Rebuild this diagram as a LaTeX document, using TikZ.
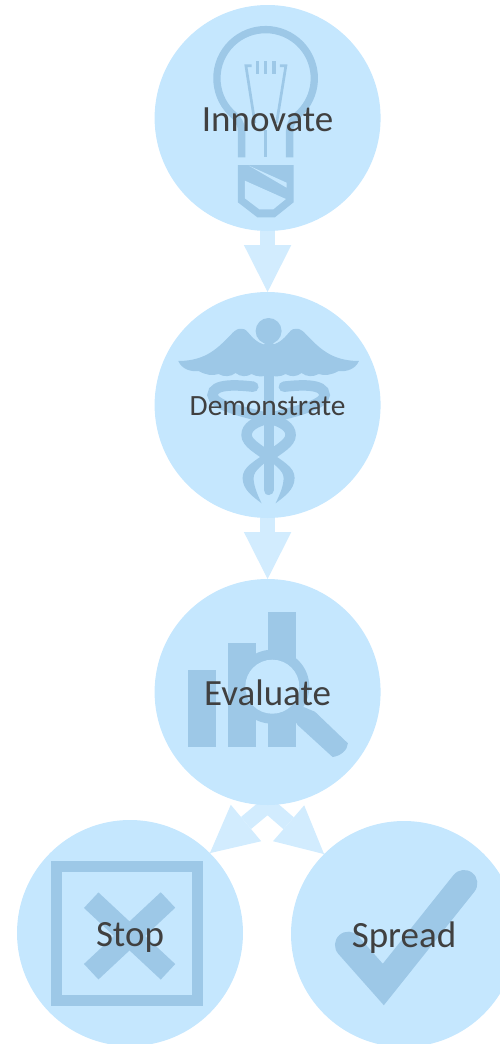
\documentclass[tikz,border=0pt]{standalone}
\usepackage{fontspec}
\setmainfont{Carlito}
\usetikzlibrary{arrows.meta}
\usetikzlibrary{backgrounds}
\definecolor{blobblue}{HTML}{C5E7FE}
\definecolor{flowblue}{HTML}{D2ECFE}
\definecolor{iconblue}{HTML}{9DC8E7}
\definecolor{labelgray}{HTML}{404040}
\tikzset{blob/.style={circle,minimum size=226pt,inner sep=0pt,outer sep=0pt,
		text=labelgray,font=\fontsize{37}{37}\selectfont,text height=26pt,text depth=0pt}}
\tikzset{flow/.style={draw=flowblue,line width=15.7pt,-{Triangle[length=47pt,width=47.5pt,line width=0pt,color=flowblue]}}}
\tikzset{icon/.style={draw=iconblue,fill=none},
		 iconfill/.style={fill=iconblue,draw=none},
		 iconhole/.style={fill=blobblue,draw=none}}
\newcommand{\bulbicon}{
	\draw[icon,line width=7.3pt] (-26,39.3) -- (-26,13) .. controls (-26,6) and (-30,1) .. (-33.3,-2.4)
		arc (130:410:48.7) .. controls (26,1) and (22,6) .. (22,13) -- (22,39.3);
	\draw[icon,line width=3.3pt] (-2,12) -- (-2,39.3);
	\draw[icon,line width=2.7pt] (-16,-52.3) -- (-21.7,-52.3) -- (-12.7,5);
	\draw[icon,line width=2.7pt] (12.3,-52.3) -- (18.3,-52.3) -- (9,5);
	\foreach \tickx in {-10.3,-2,6.3}
		\draw[icon,line width=3.3pt] (\tickx,-57) -- (\tickx,-43.7);
	\fill[iconfill] (-29.7,47) -- (26,47) -- (26,84.3) -- (7.3,99.3) -- (-10.3,99.3) -- (-29.7,84.3) -- cycle;
	\fill[iconhole] (-18.7,47.7) -- (19,64.7) -- (19,69.7) -- cycle;
	\fill[iconhole] (-22.7,62.7) -- (18.3,81) -- (5.7,91.3) -- (-8.3,91.3) -- (-22.7,80.3) -- cycle;
}
\newcommand{\halfcaduceus}{
	\fill[iconfill] (-90.3,-44) .. controls (-62,-44) and (-50,-58) .. (-38,-70)
		.. controls (-33,-76) and (-26,-80) .. (-20,-72)
		.. controls (-15,-66) and (-9,-60) .. (0,-60) -- (0,-30)
		.. controls (-5,-28) and (-12,-28) .. (-17,-31)
		.. controls (-22,-28) and (-28,-28) .. (-33,-32)
		.. controls (-38,-28) and (-45,-28) .. (-50,-31)
		.. controls (-56,-29) and (-63,-30) .. (-70,-34)
		.. controls (-78,-33) and (-87,-36) .. cycle;
	\draw[icon,line width=10.5pt,line cap=round] (-15.3,-18.3) .. controls (-30,-20) and (-56,-22) .. (-56,-10)
		.. controls (-56,0) and (-25,7) .. (0,13.3)
		.. controls (14,17) and (22,22) .. (22,30)
		.. controls (22,38) and (10,44) .. (0,51.7);
	\fill[iconfill] (0,46) .. controls (-15,57) and (-26,62) .. (-26,73)
		.. controls (-26,85) and (-15,92) .. (-7,98.3)
		.. controls (-12,88) and (-15,80) .. (-15,73)
		.. controls (-15,65) and (-5,60) .. (0,54) -- cycle;
}
\newcommand{\caduceusicon}{
	\begin{scope}[shift={(1,0)}]
		\fill[iconfill] (0,-74) circle (13);
		\halfcaduceus
		\begin{scope}[xscale=-1]
			\halfcaduceus
		\end{scope}
		\draw[icon,line width=10pt,line cap=round] (0,-60) -- (0,85);
	\end{scope}
}
\newcommand{\charticon}{
	\fill[iconfill] (-79.3,-21.7) rectangle (-51.7,55.3);
	\fill[iconfill] (-39.3,-48.7) rectangle (-11.7,55.3);
	\fill[iconfill] (0.7,-80) rectangle (28.3,55.3);
	\fill[iconfill] (4.7,-5.3) circle (37);
	\fill[iconhole] (4.7,-5.3) circle (27);
	\fill[iconfill] (25,25) -- (36,15) -- (47.3,19.7) -- (80.3,51.3)
		.. controls (80,58) and (73,64) .. (65,65) -- (30,33) -- cycle;
}
\newcommand{\stopicon}{
	\draw[icon,line width=10.5pt] (-73.7,-66.3) rectangle (67.7,67.3);
	\draw[icon,line width=21.2pt] (-38.8,-32.8) -- (38,38.8);
	\draw[icon,line width=21.2pt] (38,-33) -- (-38.8,38.7);
}
\newcommand{\spreadicon}{
	\draw[icon,line width=26.7pt,line cap=round,miter limit=10] (-55.7,11) -- (-20.7,50.5) -- (60,-50.7);
}

\begin{document}
\begin{tikzpicture}[x=1pt,y=-1pt]
	\useasboundingbox (0,0) rectangle (499,1044);
	\node[blob] (innovate) at (267.6,118) {Innovate};
	\node[blob,font=\fontsize{29.4}{29.4}\selectfont,text height=20pt] (demonstrate) at (267.6,405) {Demonstrate};
	\node[blob] (evaluate) at (267.6,692) {Evaluate};
	\node[blob] (stop) at (130,933) {Stop};
	\node[blob] (spread) at (404,934) {Spread};
	\begin{scope}[on background layer]
		\draw[flow] (innovate) -- (demonstrate);
		\draw[flow] (demonstrate) -- (evaluate);
		\draw[flow] (evaluate.south) -- (stop.45);
		\draw[flow] (evaluate.south) -- (spread.135);
		\foreach \blobname in {innovate,demonstrate,evaluate,stop,spread}
			\fill[blobblue] (\blobname) circle (113);
		\begin{scope}[shift={(innovate)}] \bulbicon \end{scope}
		\begin{scope}[shift={(demonstrate)}] \caduceusicon \end{scope}
		\begin{scope}[shift={(evaluate)}] \charticon \end{scope}
		\begin{scope}[shift={(stop)}] \stopicon \end{scope}
		\begin{scope}[shift={(spread)}] \spreadicon \end{scope}
	\end{scope}
\end{tikzpicture}
\end{document}
